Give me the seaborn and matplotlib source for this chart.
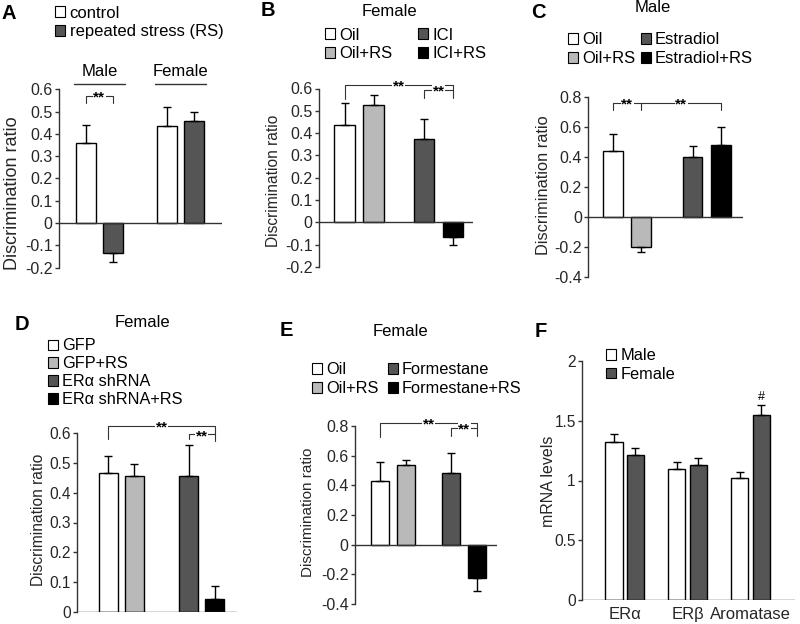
import matplotlib
matplotlib.use("Agg")
import matplotlib.pyplot as plt
from matplotlib.patches import Patch
import pandas as pd
import seaborn as sns

sns.set_style("white")
plt.rcParams["font.family"] = ["Liberation Sans", "DejaVu Sans"]
plt.rcParams["axes.unicode_minus"] = False
plt.rcParams["text.color"] = "black"

W, H = 800, 624
WHITE, LIGHT, DARK, BLACK = "#ffffff", "#b9b9b9", "#555555", "#000000"
LINE = "#333333"

# ---- values ----
stress4 = ["no", "RS", "no", "RS"]

# A
a_group = ["Male", "Male", "Female", "Female"]
a_hue = ["control", "RS", "control", "RS"]
a_mean = [0.358, -0.133, 0.436, 0.457]
a_sem = [0.082, 0.043, 0.083, 0.043]
a_colors = [WHITE, DARK, WHITE, DARK]
a_legend = ["control", "repeated stress (RS)"]
a_ticks = [-0.2, -0.1, 0, 0.1, 0.2, 0.3, 0.4, 0.5, 0.6]

# B
b_group = ["Oil", "Oil", "ICI", "ICI"]
b_mean = [0.437, 0.525, 0.372, -0.064]
b_sem = [0.099, 0.045, 0.091, 0.036]
b_labels = ["Oil", "Oil+RS", "ICI", "ICI+RS"]

# C
c_group = ["Oil", "Oil", "Estradiol", "Estradiol"]
c_mean = [0.438, -0.200, 0.400, 0.480]
c_sem = [0.112, 0.038, 0.070, 0.120]
c_labels = ["Oil", "Oil+RS", "Estradiol", "Estradiol+RS"]
c_ticks = [-0.4, -0.2, 0, 0.2, 0.4, 0.6, 0.8]

# D
d_group = ["GFP", "GFP", "shRNA", "shRNA"]
d_mean = [0.467, 0.454, 0.456, 0.044]
d_sem = [0.055, 0.040, 0.102, 0.045]
d_labels = ["GFP", "GFP+RS", "ERα shRNA", "ERα shRNA+RS"]
d_ticks = [0, 0.1, 0.2, 0.3, 0.4, 0.5, 0.6]

# E
e_group = ["Oil", "Oil", "Formestane", "Formestane"]
e_mean = [0.426, 0.538, 0.484, -0.224]
e_sem = [0.128, 0.032, 0.137, 0.090]
e_labels = ["Oil", "Oil+RS", "Formestane", "Formestane+RS"]

# F
f_gene = ["ERα", "ERα", "ERβ", "ERβ", "Aromatase", "Aromatase"]
f_sex = ["Male", "Female", "Male", "Female", "Male", "Female"]
f_mean = [1.32, 1.21, 1.10, 1.13, 1.02, 1.55]
f_sem = [0.07, 0.06, 0.055, 0.06, 0.05, 0.08]
f_colors = [WHITE, DARK, WHITE, DARK, WHITE, DARK]
f_ticks = [0, 0.5, 1, 1.5, 2]

four_colors = [WHITE, LIGHT, DARK, BLACK]

fig = plt.figure(figsize=(W / 100, H / 100), dpi=100)


def fx(px):
    return px / W


def fy(py):
    return 1 - py / H


def add_panel(box, ylim, yticks, xlim, group, hue, mean, sem, colors, width, gap,
              ylabel, ylab_pos, ylab_size, tick_size=11.5):
    left, right, top, bottom = box
    ax = fig.add_axes([fx(left), fy(bottom), (right - left) / W, (bottom - top) / H])
    df = pd.DataFrame({"group": group, "hue": hue, "mean": mean})
    sns.barplot(data=df, x="group", y="mean", hue="hue", ax=ax, width=width, gap=gap,
                errorbar=None, edgecolor="black", linewidth=1, legend=False,
                palette=["white", "white"])
    groups = list(dict.fromkeys(group))
    hues = list(dict.fromkeys(hue))
    centers = []
    for g, h, m, s, c in zip(group, hue, mean, sem, colors):
        bar = ax.containers[hues.index(h)][groups.index(g)]
        bar.set_facecolor(c)
        cx = bar.get_x() + bar.get_width() / 2
        centers.append(cx)
        yerr = [[0], [s]] if m >= 0 else [[s], [0]]
        ax.errorbar(cx, m, yerr=yerr, fmt="none", ecolor="black", elinewidth=1,
                    capsize=3, capthick=1, zorder=3)
    ax.set_xlim(xlim)
    ax.set_ylim(ylim)
    ax.set_yticks(yticks)
    ax.set_yticklabels([f"{t:g}" for t in yticks])
    ax.set_xlabel("")
    for sp in ["top", "right", "bottom"]:
        ax.spines[sp].set_visible(False)
    ax.spines["left"].set_color(LINE)
    ax.spines["left"].set_linewidth(1)
    ax.axhline(0, color=LINE, lw=1, zorder=3)
    ax.tick_params(axis="y", left=True, direction="out", length=3, width=1,
                   color=LINE, pad=1.5, labelsize=tick_size)
    ax.tick_params(axis="x", bottom=False, length=0)
    ax.set_xticks([])
    ax.set_ylabel(ylabel, fontsize=ylab_size)
    ax.yaxis.set_label_coords(fx(ylab_pos[0]), fy(ylab_pos[1]), transform=fig.transFigure)
    return ax, centers


def bracket(ax, x1, x2, y, d1, d2, label="**"):
    ax.plot([x1, x1, x2, x2], [y - d1, y, y, y - d2], color=LINE, lw=0.8,
            clip_on=False, zorder=4)
    ax.text((x1 + x2) / 2, y, label, ha="center", va="center_baseline", fontsize=11,
            fontweight="bold", clip_on=False, zorder=5,
            bbox=dict(facecolor="white", edgecolor="none", pad=0.3))


def legend(ax, labels, colors, x, y, ncol=1, colsp=1.0, size=12, lsp=0.22):
    handles = [Patch(facecolor=c, edgecolor="black", linewidth=0.8) for c in colors]
    ax.legend(handles, labels, ncol=ncol, loc="upper left",
              bbox_to_anchor=(fx(x), fy(y)), bbox_transform=fig.transFigure,
              frameon=False, borderpad=0, borderaxespad=0, handlelength=0.62,
              handleheight=0.62, handletextpad=0.25, labelspacing=lsp,
              columnspacing=colsp, fontsize=size)


def letter(s, x, y):
    fig.text(fx(x), fy(y), s, fontsize=14.5, fontweight="bold", ha="center", va="center")


def title(s, x, y, size=12):
    fig.text(fx(x), fy(y), s, fontsize=size, ha="center", va="center")


# ---- A ----
axA, cA = add_panel((59, 222, 89.3, 267.7), (-0.2, 0.6), a_ticks, (-0.496, 1.509),
                    a_group, a_hue, a_mean, a_sem, a_colors, 0.672, 0.27,
                    "Discrimination ratio", (21, 193.5), 13)
for gx, name in zip([0, 1], ["Male", "Female"]):
    axA.plot([gx - 0.31, gx + 0.31], [0.625, 0.625], color=LINE, lw=1, clip_on=False)
    axA.text(gx, 0.678, name, ha="center", va="center", fontsize=12, clip_on=False)
bracket(axA, cA[0], cA[1], 0.571, 0.033, 0.033)
legend(axA, a_legend, [WHITE, DARK], 55, 5.5)
letter("A", 8.5, 13.5)

# ---- B ----
axB, cB = add_panel((319, 473, 88.5, 267), (-0.2, 0.6), a_ticks, (-0.505, 1.432),
                    b_group, stress4, b_mean, b_sem, four_colors, 0.73, 0.29,
                    "Discrimination ratio", (281, 181), 11.2)
bracket(axB, cB[0], cB[3], 0.615, 0.06, 0.057)
bracket(axB, cB[2], cB[3], 0.593, 0.035, 0.0)
legend(axB, b_labels, four_colors, 325, 27.5, ncol=2, colsp=1.5)
title("Female", 389, 11)
letter("B", 267.5, 10)

# ---- C ----
axC, cC = add_panel((588, 743, 96.7, 276.7), (-0.4, 0.8), c_ticks, (-0.491, 1.455),
                    c_group, stress4, c_mean, c_sem, four_colors, 0.716, 0.30,
                    "Discrimination ratio", (551, 185), 11.8)
bracket(axC, cC[0], cC[1], 0.76, 0.05, 0.05)
bracket(axC, cC[1], cC[3], 0.76, 0.0, 0.05)
legend(axC, c_labels, four_colors, 568, 32.5, ncol=2, colsp=0.3)
title("Male", 653, 8)
letter("C", 538.5, 13)

# ---- D ----
axD, cD = add_panel((77, 237, 432.7, 612.3), (0, 0.6), d_ticks, (-0.551, 1.439),
                    d_group, stress4, d_mean, d_sem, four_colors, 0.652, 0.27,
                    "Discrimination ratio", (46, 520), 11.2, tick_size=11.2)
bracket(axD, cD[0], cD[3], 0.622, 0.044, 0.05)
bracket(axD, cD[2], cD[3], 0.594, 0.016, 0.0)
legend(axD, d_labels, four_colors, 48, 338.5, size=11.7, lsp=0.18)
title("Female", 142, 322)
letter("D", 21.5, 325)

# ---- E ----
axE, cE = add_panel((355, 497, 426, 604), (-0.4, 0.8), c_ticks, (-0.534, 1.46),
                    e_group, stress4, e_mean, e_sem, four_colors, 0.727, 0.29,
                    "Discrimination ratio", (314.5, 512), 11)
bracket(axE, cE[0], cE[3], 0.818, 0.089, 0.085)
bracket(axE, cE[2], cE[3], 0.785, 0.052, 0.0)
legend(axE, e_labels, four_colors, 312, 362.5, ncol=2, colsp=0.55, size=11.8)
title("Female", 400, 332)
letter("E", 286.5, 330)

# ---- F ----
axF, cF = add_panel((582, 795, 361, 600), (0, 2), f_ticks, (-0.68, 2.71),
                    f_gene, f_sex, f_mean, f_sem, f_colors, 0.684, 0.2,
                    "mRNA levels", (556, 481), 11.5, tick_size=11.2)
genes = list(dict.fromkeys(f_gene))
axF.set_xticks(range(len(genes)))
axF.set_xticklabels(genes, fontsize=12)
axF.tick_params(axis="x", length=0, pad=5)
axF.text(cF[5], 1.70, "#", ha="center", va="center", fontsize=9)
legend(axF, ["Male", "Female"], [WHITE, DARK], 606, 348, size=11.8)
letter("F", 541, 331.5)

fig.savefig("out.png", dpi=100)
